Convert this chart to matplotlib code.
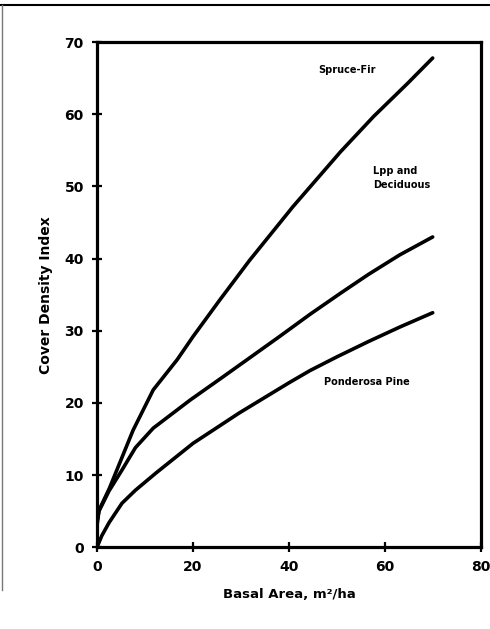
import numpy as np
import matplotlib
matplotlib.use('Agg')
import matplotlib.pyplot as plt
from matplotlib.lines import Line2D

# values (basal area, cover density index)
spruce_x = [0, 0.4, 2.6, 7.5, 11.7, 16.7, 20, 25.6, 31.7, 40.8, 50.7, 57.6, 64.7, 69.9]
spruce_y = [3.0, 5.1, 8.2, 16.2, 21.8, 26.0, 29.2, 34.3, 39.7, 47.2, 54.8, 59.7, 64.3, 67.8]

lpp_x = [0, 0.4, 2.5, 5.2, 8.0, 11.7, 19.4, 26, 31.9, 38, 44.4, 50.7, 56.5, 63.0, 69.9]
lpp_y = [3.5, 5.0, 7.8, 10.7, 13.8, 16.5, 20.4, 23.5, 26.3, 29.2, 32.3, 35.2, 37.8, 40.5, 43.0]

pond_x = [0, 1.0, 2.5, 5.2, 8.0, 12.3, 20, 29.6, 40, 44.4, 50, 56.5, 63.0, 69.9]
pond_y = [0, 1.6, 3.4, 6.1, 7.9, 10.3, 14.4, 18.6, 22.8, 24.5, 26.4, 28.5, 30.5, 32.5]

x_ticks = [0, 20, 40, 60, 80]
y_ticks = [0, 10, 20, 30, 40, 50, 60, 70]

plt.rcParams['font.family'] = ['DejaVu Sans']
plt.rcParams['font.weight'] = 'bold'

fig = plt.figure(figsize=(4.9, 6.29), dpi=100)
ax = fig.add_axes([0.198, 0.130, 0.784, 0.803])

for xs, ys in [(spruce_x, spruce_y), (lpp_x, lpp_y), (pond_x, pond_y)]:
    ax.plot(xs, ys, color='black', lw=2.6, solid_capstyle='round',
            solid_joinstyle='round')

ax.set_xlim(0, 80)
ax.set_ylim(0, 70)
ax.set_xticks(x_ticks)
ax.set_yticks(y_ticks)
ax.tick_params(direction='inout', length=7, width=1.6, labelsize=10, pad=6)
for lab in ax.get_xticklabels() + ax.get_yticklabels():
    lab.set_fontweight('heavy')
for sp in ax.spines.values():
    sp.set_linewidth(2.3)

ax.set_xlabel('Basal Area, m\u00b2/ha', fontsize=9.5, fontweight='heavy', labelpad=10)
ax.set_ylabel('Cover Density Index', fontsize=10, fontweight='heavy', labelpad=8)

ax.text(46.0, 66.2, 'Spruce-Fir', fontsize=7, fontweight='heavy', va='center')
ax.text(57.4, 51.2, 'Lpp and\nDeciduous', fontsize=7, fontweight='heavy', va='center',
        linespacing=1.5)
ax.text(47.3, 22.9, 'Ponderosa Pine', fontsize=7, fontweight='heavy', va='center')

# scan border lines
fig.add_artist(Line2D([0, 1], [1 - 5 / 629, 1 - 5 / 629], color='black', lw=1.5))
fig.add_artist(Line2D([2 / 490, 2 / 490], [1 - 5 / 629, 1 - 590 / 629], color='#777777', lw=1.0))

fig.savefig('out.png', dpi=100)
